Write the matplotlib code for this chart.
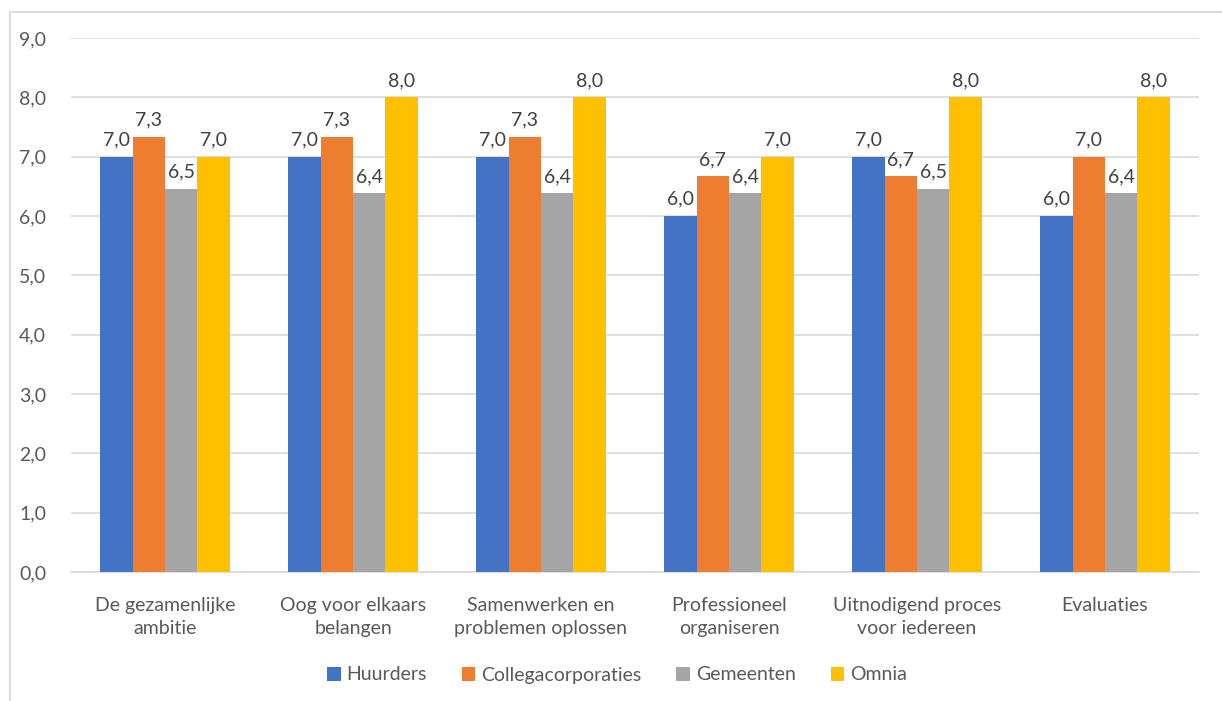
import matplotlib
matplotlib.use("Agg")
import matplotlib.pyplot as plt
from matplotlib.patches import Rectangle
import numpy as np

categories = [
    "De gezamenlijke\nambitie",
    "Oog voor elkaars\nbelangen",
    "Samenwerken en\nproblemen oplossen",
    "Professioneel\norganiseren",
    "Uitnodigend proces\nvoor iedereen",
    "Evaluaties",
]
series_names = ["Huurders", "Collegacorporaties", "Gemeenten", "Omnia"]
huurders = [7.0, 7.0, 7.0, 6.0, 7.0, 6.0]
collegacorporaties = [7.33, 7.33, 7.33, 6.67, 6.67, 7.0]
gemeenten = [6.46, 6.38, 6.38, 6.38, 6.46, 6.38]
omnia = [7.0, 8.0, 8.0, 7.0, 8.0, 8.0]
y_ticks = [0, 1, 2, 3, 4, 5, 6, 7, 8, 9]

colors = ["#4472C4", "#ED7D31", "#A5A5A5", "#FFC000"]
text_color = "#595959"
grid_color = "#D9D9D9"

plt.rcParams["font.family"] = ["Lato", "DejaVu Sans"]

W, H = 1222, 701
fig = plt.figure(figsize=(W / 100, H / 100), dpi=100)
fig.patch.set_facecolor("white")

# outer chart frame
fig.add_artist(Rectangle((10 / W, -0.01), 1.05, 1 - 12 / H + 0.01,
                         transform=fig.transFigure, fill=False,
                         edgecolor=grid_color, linewidth=1.3))

ax = fig.add_axes([71 / W, (H - 572) / H, (1199 - 71) / W, (572 - 38) / H])

data = [huurders, collegacorporaties, gemeenten, omnia]
x = np.arange(len(categories))
bw = 0.172
offsets = (np.arange(4) - 1.5) * bw
for vals, off, col, name in zip(data, offsets, colors, series_names):
    bars = ax.bar(x + off, vals, width=bw, color=col, label=name, zorder=3)
    for b, v in zip(bars, vals):
        ax.annotate(f"{v:.1f}".replace(".", ","),
                    (b.get_x() + b.get_width() / 2, v),
                    xytext=(0, 6), textcoords="offset points",
                    ha="center", va="bottom", fontsize=14, color="#404040")

ax.set_xlim(-0.5, len(categories) - 0.5)
ax.set_ylim(0, 9)
ax.set_yticks(y_ticks)
ax.set_yticklabels([f"{t:.1f}".replace(".", ",") for t in y_ticks])
ax.set_xticks(x)
ax.set_xticklabels(categories, linespacing=1.45)
ax.tick_params(axis="y", length=0, pad=18, labelsize=14, labelcolor=text_color)
ax.tick_params(axis="x", length=0, pad=18, labelsize=14, labelcolor=text_color)
ax.grid(axis="y", color=grid_color, linewidth=1.2, zorder=0)
for s in ["top", "right", "left"]:
    ax.spines[s].set_visible(False)
ax.spines["bottom"].set_color(grid_color)
ax.spines["bottom"].set_linewidth(1.2)

leg = fig.legend(loc="center", bbox_to_anchor=(617 / W, 1 - 675 / H), ncol=4,
                 frameon=False, fontsize=14, handlelength=0.7, handleheight=0.7,
                 handletextpad=0.3, columnspacing=1.8)
for t in leg.get_texts():
    t.set_color(text_color)

fig.savefig("out.png", dpi=100)
